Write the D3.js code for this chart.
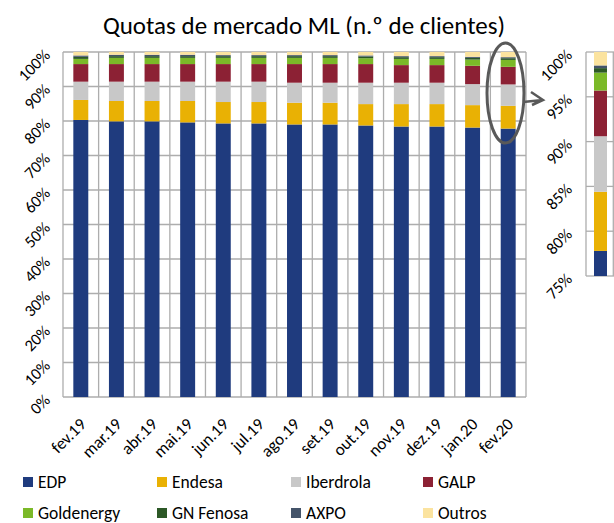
<!DOCTYPE html>
<html>
<head>
<meta charset="utf-8">
<script src="https://cdn.jsdelivr.net/npm/d3@7"></script>
<style>
  body { margin: 0; background: #fff; }
  text { font-family: Calibri, Carlito, Lato, sans-serif; fill: #000; }
</style>
</head>
<body>
<div id="chart"></div>
<script>
// chart data (percent of clients)
const months = ["fev.19","mar.19","abr.19","mai.19","jun.19","jul.19","ago.19","set.19","out.19","nov.19","dez.19","jan.20","fev.20"];
const companies = ["EDP","Endesa","Iberdrola","GALP","Goldenergy","GN Fenosa","AXPO","Outros"];

const edp        = [80.3, 79.9, 79.9, 79.6, 79.3, 79.3, 79.0, 79.0, 78.7, 78.4, 78.4, 78.1, 77.8];
const endesa     = [5.8, 5.9, 5.9, 6.2, 6.2, 6.2, 6.3, 6.3, 6.2, 6.5, 6.5, 6.5, 6.6];
const iberdrola  = [5.3, 5.6, 5.6, 5.6, 5.9, 5.9, 5.8, 5.8, 6.2, 6.2, 6.2, 6.1, 6.2];
const galp       = [5.1, 5.1, 5.1, 5.1, 5.1, 5.1, 5.4, 5.4, 5.4, 5.1, 5.1, 5.3, 5.1];
const goldenergy = [1.5, 1.8, 1.8, 1.8, 1.8, 1.8, 1.8, 1.8, 1.7, 1.8, 1.8, 1.8, 2.0];
const gnFenosa   = [0.6, 0.5, 0.5, 0.5, 0.5, 0.5, 0.5, 0.5, 0.5, 0.5, 0.5, 0.5, 0.5];
const axpo       = [0.4, 0.4, 0.4, 0.4, 0.3, 0.3, 0.3, 0.3, 0.3, 0.3, 0.3, 0.3, 0.3];
const outros     = [1.0, 0.8, 0.8, 0.8, 0.9, 0.9, 0.9, 0.9, 1.0, 1.2, 1.2, 1.4, 1.5];

const mainTicks  = [0, 0.1, 0.2, 0.3, 0.4, 0.5, 0.6, 0.7, 0.8, 0.9, 1];
const insetTicks = [0.75, 0.8, 0.85, 0.9, 0.95, 1];

const colors = ["#1f3b7e", "#e9b104", "#c8c8c8", "#8c2134", "#7bb928", "#2c5826", "#44546a", "#fbe39f"];

// build rows for d3.stack
const seriesValues = [edp, endesa, iberdrola, galp, goldenergy, gnFenosa, axpo, outros];
const rows = months.map((m, i) => {
  const r = {month: m};
  companies.forEach((c, k) => r[c] = seriesValues[k][i]);
  return r;
});

const stacked = d3.stack()
  .keys(companies)
  .offset(d3.stackOffsetExpand)(rows);

const width = 614, height = 523;
const svg = d3.select("#chart").append("svg")
  .attr("width", width)
  .attr("height", height);

// main plot area
const plot = {left: 63, right: 526, top: 52, bottom: 397};
const gridColor = "#adadad";

const x = d3.scaleBand()
  .domain(months)
  .range([plot.left, plot.right])
  .paddingInner(0.58)
  .paddingOuter(0.29);

const y = d3.scaleLinear()
  .domain([0, 1])
  .range([plot.bottom, plot.top]);

// horizontal grid
svg.append("g")
  .selectAll("line")
  .data(mainTicks)
  .enter().append("line")
    .attr("x1", plot.left).attr("x2", plot.right)
    .attr("y1", d => y(d)).attr("y2", d => y(d))
    .attr("stroke", gridColor).attr("stroke-width", 1.3);

// vertical grid at band boundaries
const step = x.step();
const x0 = x(months[0]) - step * x.paddingInner() / 2;
svg.append("g")
  .selectAll("line")
  .data(d3.range(months.length + 1))
  .enter().append("line")
    .attr("x1", i => x0 + i * step).attr("x2", i => x0 + i * step)
    .attr("y1", plot.top).attr("y2", plot.bottom)
    .attr("stroke", gridColor).attr("stroke-width", 1.3);

// stacked bars
svg.append("g")
  .selectAll("g")
  .data(stacked)
  .enter().append("g")
    .attr("fill", (d, i) => colors[i])
  .selectAll("rect")
  .data(d => d)
  .enter().append("rect")
    .attr("x", d => x(d.data.month))
    .attr("y", d => y(d[1]))
    .attr("height", d => y(d[0]) - y(d[1]))
    .attr("width", x.bandwidth());

// y axis labels (rotated)
svg.append("g")
  .selectAll("text")
  .data(mainTicks)
  .enter().append("text")
    .attr("transform", d => `translate(${plot.left - 16},${y(d)}) rotate(-45)`)
    .attr("text-anchor", "end")
    .attr("dy", "0.35em")
    .attr("font-size", "16.5px")
    .text(d => d3.format(".0%")(d));

// x axis labels (rotated)
svg.append("g")
  .selectAll("text")
  .data(months)
  .enter().append("text")
    .attr("transform", d => `translate(${x(d) + x.bandwidth() / 2 + 2},${plot.bottom + 24}) rotate(-45)`)
    .attr("text-anchor", "end")
    .attr("dy", "0.35em")
    .attr("font-size", "17px")
    .text(d => d);

// title
svg.append("text")
  .attr("x", 304).attr("y", 34)
  .attr("text-anchor", "middle")
  .attr("font-size", "25px")
  .text("Quotas de mercado ML (n.º de clientes)");

// inset: zoom of the last bar
const inset = {left: 586, right: 614, top: 52, bottom: 276};
const yIn = d3.scaleLinear()
  .domain([0.75, 1])
  .range([inset.bottom, inset.top]);

svg.append("g")
  .selectAll("line")
  .data(insetTicks)
  .enter().append("line")
    .attr("x1", inset.left).attr("x2", inset.right)
    .attr("y1", d => yIn(d)).attr("y2", d => yIn(d))
    .attr("stroke", gridColor).attr("stroke-width", 1.3);

svg.append("g")
  .selectAll("line")
  .data([inset.left, inset.right - 0.7])
  .enter().append("line")
    .attr("x1", d => d).attr("x2", d => d)
    .attr("y1", inset.top).attr("y2", inset.bottom)
    .attr("stroke", gridColor).attr("stroke-width", 1.3);

const last = months.length - 1;
svg.append("g")
  .selectAll("rect")
  .data(stacked.map((s, i) => ({seg: s[last], color: colors[i]})))
  .enter().append("rect")
    .attr("x", 594)
    .attr("width", 13)
    .attr("y", d => yIn(Math.min(1, d.seg[1])))
    .attr("height", d => {
      const lo = Math.max(0.75, d.seg[0]), hi = Math.min(1, d.seg[1]);
      return Math.max(0, yIn(lo) - yIn(hi));
    })
    .attr("fill", d => d.color);

svg.append("g")
  .selectAll("text")
  .data(insetTicks)
  .enter().append("text")
    .attr("transform", d => `translate(${inset.left - 17},${yIn(d)}) rotate(-45)`)
    .attr("text-anchor", "end")
    .attr("dy", "0.35em")
    .attr("font-size", "16.5px")
    .text(d => d3.format(".0%")(d));

// highlight ellipse and arrow
svg.append("ellipse")
  .attr("cx", 505.5).attr("cy", 93)
  .attr("rx", 18.5).attr("ry", 50)
  .attr("fill", "none")
  .attr("stroke", "#595959")
  .attr("stroke-width", 3);

svg.append("path")
  .attr("d", "M523,102 L543,100 M531,92 L543,100 L532,105")
  .attr("fill", "none")
  .attr("stroke", "#595959")
  .attr("stroke-width", 2.5)
  .attr("stroke-linejoin", "miter");

// legend
const legendX = [23, 157, 291, 423];
const legendY = [482, 513];
const legend = svg.append("g")
  .selectAll("g")
  .data(companies)
  .enter().append("g")
    .attr("transform", (d, i) => `translate(${legendX[i % 4]},${legendY[Math.floor(i / 4)]})`);

legend.append("rect")
  .attr("x", 0).attr("y", -5)
  .attr("width", 10).attr("height", 10)
  .attr("fill", (d, i) => colors[i]);

legend.append("text")
  .attr("x", 15)
  .attr("dy", "0.35em")
  .attr("font-size", "17.5px")
  .text(d => d);
</script>
</body>
</html>
